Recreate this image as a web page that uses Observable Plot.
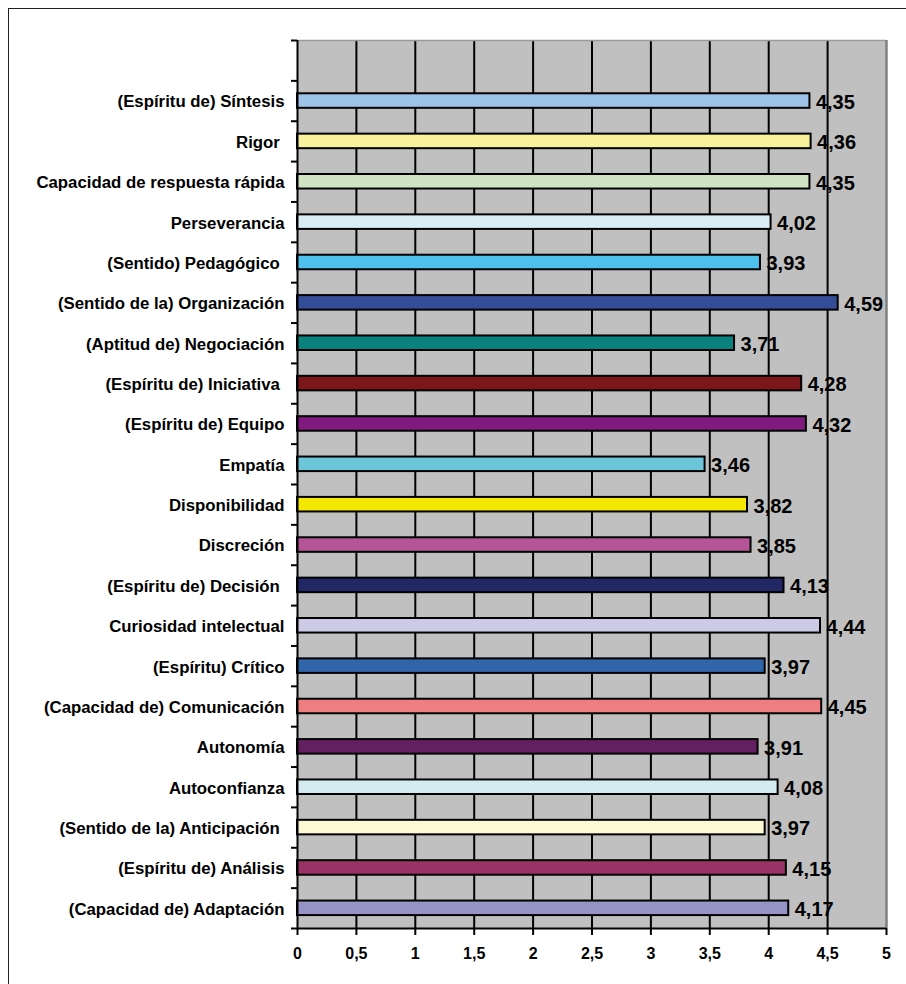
<!DOCTYPE html>
<html><head><meta charset="utf-8">
<script src="https://cdn.jsdelivr.net/npm/d3@7"></script>
<script src="https://cdn.jsdelivr.net/npm/@observablehq/plot@0.6"></script>
<style>
html,body{margin:0;padding:0;background:#fff;}
#wrap{position:relative;width:906px;height:984px;overflow:hidden;}
#frame{position:absolute;left:8px;top:8px;width:1000px;height:1100px;border-left:1.5px solid #222;border-top:1.5px solid #222;}
#chart{position:absolute;left:0;top:0;}
svg text{font-family:"Liberation Sans",Arial,sans-serif;font-weight:bold;white-space:pre;}
</style></head><body>
<div id="wrap"><div id="frame"></div><div id="chart"></div></div>
<script>
const categories = [
  "(Espíritu de) Síntesis",
  "Rigor ",
  "Capacidad de respuesta rápida",
  "Perseverancia",
  "(Sentido) Pedagógico ",
  "(Sentido de la) Organización",
  "(Aptitud de) Negociación",
  "(Espíritu de) Iniciativa ",
  "(Espíritu de) Equipo",
  "Empatía",
  "Disponibilidad",
  "Discreción",
  "(Espíritu de) Decisión ",
  "Curiosidad intelectual",
  "(Espíritu) Crítico",
  "(Capacidad de) Comunicación",
  "Autonomía",
  "Autoconfianza",
  "(Sentido de la) Anticipación ",
  "(Espíritu de) Análisis",
  "(Capacidad de) Adaptación"
];
const values = [4.35, 4.36, 4.35, 4.02, 3.93, 4.59, 3.71, 4.28, 4.32, 3.46, 3.82, 3.85, 4.13, 4.44, 3.97, 4.45, 3.91, 4.08, 3.97, 4.15, 4.17];
const colors = [
  "#9dc3e6", "#f8f29c", "#d0e4c4", "#d8eef4", "#4dc1ec", "#334d97", "#0b817e",
  "#7d161a", "#801a7e", "#6cc5d9", "#f4e800", "#b55597", "#222766", "#cccae4",
  "#3065a9", "#ee7e80", "#641f60", "#d3ebf1", "#fff8d4", "#993366", "#9694c7"
];
const xTicks = [0, 0.5, 1, 1.5, 2, 2.5, 3, 3.5, 4, 4.5, 5];
const slots = categories.length + 1; // one empty slot on top

const data = categories.map((c, i) => ({name: c, value: values[i], color: colors[i], i}));
const fmt = v => String(v).replace(".", ",");
const yc = d => d.i + 1.5;

const chart = Plot.plot({
  width: 906, height: 984,
  marginLeft: 297, marginRight: 20, marginTop: 40, marginBottom: 56,
  style: {fontFamily: '"Liberation Sans", Arial, sans-serif', background: "transparent", overflow: "visible", color: "#000"},
  x: {domain: [0, 5]},
  y: {domain: [0, slots], reverse: true},
  color: {type: "identity"},
  marks: [
    Plot.frame({fill: "#c0c0c0", stroke: "none"}),
    Plot.ruleX(xTicks.filter(t => t > 0 && t < 5), {stroke: "#000", strokeWidth: 2}),
    Plot.ruleY([0], {stroke: "#9a9a9a", strokeWidth: 1.5}),
    Plot.ruleX([5], {stroke: "#808080", strokeWidth: 2.5}),
    Plot.rect(data, {x1: d => 0, x2: "value", y1: d => yc(d) - 0.18, y2: d => yc(d) + 0.18, fill: "color", stroke: "#000", strokeWidth: 2}),
    Plot.ruleX([0], {stroke: "#000", strokeWidth: 2}),
    Plot.ruleY([slots], {stroke: "#000", strokeWidth: 2}),
    Plot.axisY(d3.range(0, slots + 1), {tickSize: 6, tickFormat: () => "", strokeWidth: 2, stroke: "#000", label: null}),
    Plot.axisX(xTicks, {tickSize: 7, tickPadding: 12, tickFormat: fmt, fontSize: 16, fontWeight: "bold", strokeWidth: 2, stroke: "#000", label: null}),
    Plot.text(data, {x: d => 0, y: yc, text: "name", textAnchor: "end", dx: -13, dy: 1, fontSize: 16.8, fontWeight: "bold", fill: "#000"}),
    Plot.text(data, {x: "value", y: yc, text: d => fmt(d.value), textAnchor: "start", dx: 6, dy: 1.5, fontSize: 20, fontWeight: "bold", fill: "#000"})
  ]
});
document.getElementById("chart").appendChild(chart);
</script>
</body></html>
